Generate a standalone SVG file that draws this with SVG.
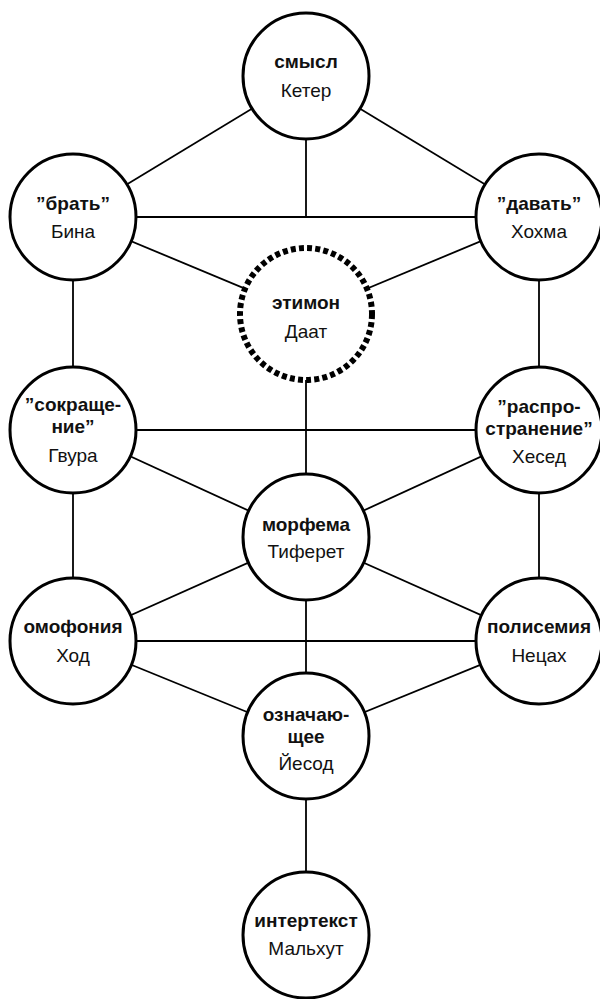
<svg xmlns="http://www.w3.org/2000/svg" width="600" height="999" viewBox="0 0 600 999">
<style>
.n{fill:#fff;stroke:#000;stroke-width:3}
.d{fill:#fff;stroke:#000;stroke-width:6;stroke-dasharray:5 3.2}
.c line{stroke:#000;stroke-width:1.8}
text{font-family:"Liberation Sans","Open Sans",sans-serif;font-size:19px;text-anchor:middle;fill:#111}
.b{font-weight:bold}
</style>
<rect width="600" height="999" fill="#fff"/>
<g class="c" id="connectors">
<line x1="306" y1="76" x2="73" y2="217"/>
<line x1="306" y1="76" x2="539" y2="217"/>
<line x1="306" y1="76" x2="306" y2="217"/>
<line x1="73" y1="217" x2="539" y2="217"/>
<line x1="73" y1="217" x2="306" y2="314"/>
<line x1="539" y1="217" x2="306" y2="314"/>
<line x1="73" y1="217" x2="73" y2="430"/>
<line x1="539" y1="217" x2="539" y2="430"/>
<line x1="306" y1="314" x2="306" y2="537"/>
<line x1="73" y1="430" x2="539" y2="430"/>
<line x1="73" y1="430" x2="306" y2="537"/>
<line x1="539" y1="430" x2="306" y2="537"/>
<line x1="73" y1="430" x2="73" y2="641"/>
<line x1="539" y1="430" x2="539" y2="641"/>
<line x1="306" y1="537" x2="73" y2="641"/>
<line x1="306" y1="537" x2="539" y2="641"/>
<line x1="306" y1="537" x2="306" y2="736"/>
<line x1="73" y1="641" x2="539" y2="641"/>
<line x1="73" y1="641" x2="306" y2="736"/>
<line x1="539" y1="641" x2="306" y2="736"/>
<line x1="306" y1="736" x2="306" y2="935"/>
</g>
<g id="keter"><circle class="n" cx="306" cy="76" r="63"/><text class="b" x="306" y="68">смысл</text><text x="306" y="97">Кетер</text></g>
<g id="bina"><circle class="n" cx="73" cy="217" r="63"/><text class="b" x="73" y="210">”брать”</text><text x="73" y="238">Бина</text></g>
<g id="hokhma"><circle class="n" cx="539" cy="217" r="63"/><text class="b" x="539" y="210">”давать”</text><text x="539" y="238">Хохма</text></g>
<g id="daat"><circle class="d" cx="306" cy="314" r="66"/><text class="b" x="306" y="309">этимон</text><text x="306" y="338">Даат</text></g>
<g id="gvura"><circle class="n" cx="73" cy="430" r="63"/><text class="b" x="73" y="411">”сокраще-</text><text class="b" x="73" y="433">ние”</text><text x="73" y="462">Гвура</text></g>
<g id="hesed"><circle class="n" cx="539" cy="430" r="63"/><text class="b" x="539" y="413">”распро-</text><text class="b" x="539" y="435">странение”</text><text x="539" y="463">Хесед</text></g>
<g id="tiferet"><circle class="n" cx="306" cy="537" r="63"/><text class="b" x="306" y="531">морфема</text><text x="306" y="558">Тиферет</text></g>
<g id="hod"><circle class="n" cx="73" cy="641" r="63"/><text class="b" x="73" y="633">омофония</text><text x="73" y="662">Ход</text></g>
<g id="netzach"><circle class="n" cx="539" cy="641" r="63"/><text class="b" x="539" y="633">полисемия</text><text x="539" y="662">Нецах</text></g>
<g id="yesod"><circle class="n" cx="306" cy="736" r="63"/><text class="b" x="306" y="721">означаю-</text><text class="b" x="306" y="743">щее</text><text x="306" y="770">Йесод</text></g>
<g id="malkhut"><circle class="n" cx="306" cy="935" r="63"/><text class="b" x="306" y="927">интертекст</text><text x="306" y="955">Мальхут</text></g>
</svg>
